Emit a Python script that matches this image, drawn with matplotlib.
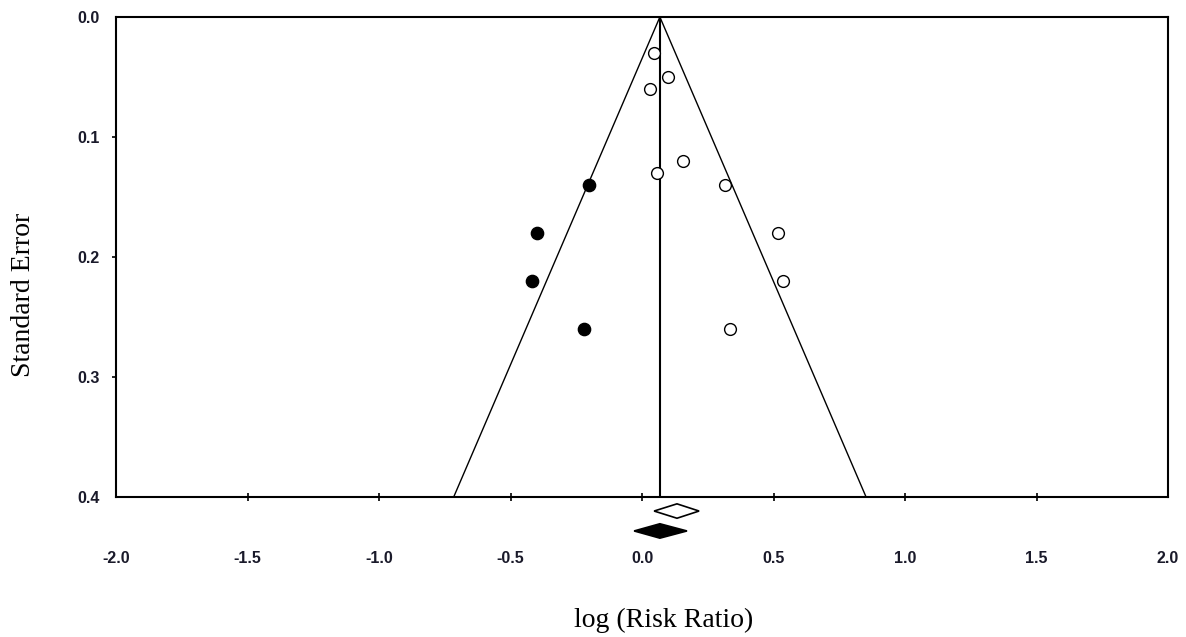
import matplotlib
matplotlib.use("Agg")
import matplotlib.pyplot as plt
from matplotlib.patches import Polygon
import numpy as np

# ---- data ----
obs_logrr = [0.047, 0.098, 0.030, 0.157, 0.056, 0.316, 0.516, 0.535, 0.335]
obs_se    = [0.030, 0.050, 0.060, 0.120, 0.130, 0.140, 0.180, 0.220, 0.260]
imp_logrr = [-0.202, -0.400, -0.419, -0.219]
imp_se    = [0.140, 0.180, 0.220, 0.260]

funnel_center = 0.068
se_max = 0.4
z = 1.96

# summary diamonds: (estimate, lower, upper)
obs_summary = (0.133, 0.046, 0.217)
adj_summary = (0.068, -0.030, 0.171)

x_ticks = [-2.0, -1.5, -1.0, -0.5, 0.0, 0.5, 1.0, 1.5, 2.0]
y_ticks = [0.0, 0.1, 0.2, 0.3, 0.4]

fig = plt.figure(figsize=(11.86, 6.37), dpi=100)
ax = fig.add_axes([116/1186, 1 - 497/637, 1052/1186, 480/637])

ax.set_xlim(-2.0, 2.0)
ax.set_ylim(se_max, 0.0)

# funnel
ax.plot([funnel_center - z*se_max, funnel_center, funnel_center + z*se_max],
        [se_max, 0.0, se_max], color='black', lw=1.0)
ax.plot([funnel_center, funnel_center], [0.0, se_max], color='black', lw=1.5)

# points
ax.scatter(obs_logrr, obs_se, s=72, facecolors='white', edgecolors='black',
           linewidths=1.0, zorder=3)
ax.scatter(imp_logrr, imp_se, s=78, facecolors='black', edgecolors='black',
           linewidths=1.0, zorder=3)

# diamonds below the axis
def diamond(summary, yc, filled):
    est, lo, hi = summary
    h = 0.006
    poly = Polygon([[lo, yc], [est, yc - h], [hi, yc], [est, yc + h]],
                   closed=True, facecolor='black' if filled else 'white',
                   edgecolor='black', lw=1.2, clip_on=False, zorder=4)
    ax.add_patch(poly)

diamond(obs_summary, 0.4117, False)
diamond(adj_summary, 0.4283, True)

for s in ax.spines.values():
    s.set_linewidth(1.5)

ax.set_xticks(x_ticks)
ax.set_xticklabels([f"{v:.1f}" for v in x_ticks])
ax.set_yticks(y_ticks)
ax.set_yticklabels([f"{v:.1f}" for v in y_ticks])

for lab in ax.get_xticklabels() + ax.get_yticklabels():
    lab.set_fontfamily('Liberation Sans')
    lab.set_fontweight('bold')
    lab.set_fontsize(11.5)
    lab.set_color('#1a1a2a')

ax.tick_params(axis='x', direction='inout', length=6, width=1.2, pad=36)
ax.tick_params(axis='y', direction='out', length=3, width=1.2, pad=9)

# no tick marks at the frame corners
for t in (ax.xaxis.get_major_ticks()[0], ax.xaxis.get_major_ticks()[-1],
          ax.yaxis.get_major_ticks()[0], ax.yaxis.get_major_ticks()[-1]):
    t.tick1line.set_visible(False)
    t.tick2line.set_visible(False)

ax.set_xlabel('log (Risk Ratio)', fontfamily='Liberation Serif', fontsize=20)
ax.xaxis.set_label_coords((664 - 116) / 1052, (497 - 620) / 480)
ax.xaxis.label.set_va('center')
ax.set_ylabel('Standard Error', fontfamily='Liberation Serif', fontsize=20)
ax.yaxis.set_label_coords((24 - 116) / 1052, (497 - 295) / 480)
ax.yaxis.label.set_va('center')

fig.savefig('out.png', dpi=100)
